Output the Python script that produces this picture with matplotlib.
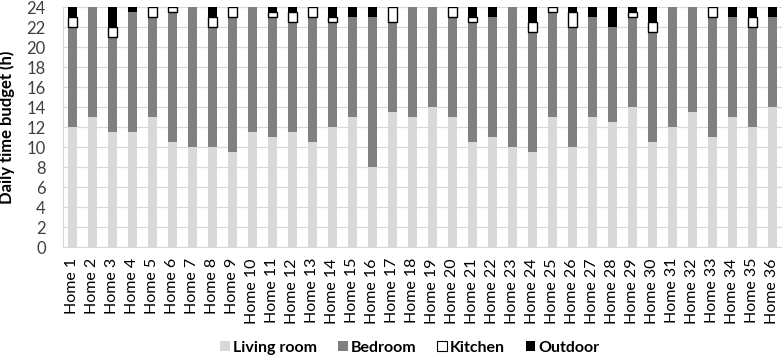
import matplotlib
matplotlib.use("Agg")
import matplotlib.pyplot as plt
import numpy as np
from matplotlib.patches import Patch

plt.rcParams['font.family'] = ['Lato', 'DejaVu Sans']

homes = [f"Home {i}" for i in range(1, 37)]
living = [12, 13, 11.5, 11.5, 13, 10.5, 10, 10, 9.5, 11.5, 11, 11.5, 10.5, 12, 13, 8, 13.5, 13,
          14, 13, 10.5, 11, 10, 9.5, 13, 10, 13, 12.5, 14, 10.5, 12, 13.5, 11, 13, 12, 14]
bedroom = [10, 11, 9.5, 12, 10, 13, 14, 12, 13.5, 12.5, 12, 11, 12.5, 10.5, 10, 15, 9, 11,
           10, 10, 12, 12, 14, 12, 10.5, 12, 10, 9.5, 9, 11, 12, 10.5, 12, 10, 10, 9]
kitchen = [1, 0, 1, 0, 1, 0.5, 0, 1, 1, 0, 0.5, 1, 1, 0.5, 0, 0, 1.5, 0,
           0, 1, 0.5, 0, 0, 1, 0.5, 1.5, 0, 0, 0.5, 1, 0, 0, 1, 0, 1, 0]
outdoor = [1, 0, 2, 0.5, 0, 0, 0, 1, 0, 0, 0.5, 0.5, 0, 1, 1, 1, 0, 0,
           0, 0, 1, 1, 0, 1.5, 0, 0.5, 1, 2, 0.5, 1.5, 0, 0, 0, 1, 1, 1]
yticks = list(range(0, 25, 2))

fig = plt.figure(figsize=(7.82, 3.56), dpi=100)
ax = fig.add_axes([62.5/782, 109/356, 720/782, 240/356])

x = np.arange(len(homes))
w = 0.45
liv = np.array(living, float)
bed = np.array(bedroom, float)
kit = np.array(kitchen, float)
out = np.array(outdoor, float)

ax.bar(x, liv, w, color='#d9d9d9', zorder=3)
ax.bar(x, bed, w, bottom=liv, color='#808080', zorder=3)
mask = kit > 0
ax.bar(x[mask], kit[mask], w, bottom=(liv + bed)[mask], color='white',
       edgecolor='black', linewidth=1.0, zorder=3)
ax.bar(x, out, w, bottom=liv + bed + kit, color='black', zorder=3)

ax.set_xlim(-0.5, len(homes) - 0.5)
ax.set_ylim(0, 24)
ax.set_yticks(yticks)
ax.set_yticklabels([str(t) for t in yticks], fontsize=12, color='#404040')
ax.set_xticks(x)
ax.set_xticklabels(homes, rotation=90, fontsize=11.5, color='black')
ax.tick_params(axis='y', length=0, pad=12)
ax.tick_params(axis='x', length=0, pad=8)
ax.yaxis.grid(True, color='#d9d9d9', linewidth=0.9, zorder=0)
ax.set_axisbelow(True)
for s in ['top', 'right']:
    ax.spines[s].set_visible(False)
ax.spines['left'].set_color('#d9d9d9')
ax.spines['bottom'].set_color('#d9d9d9')
ax.set_ylabel('Daily time budget (h)', fontsize=12, fontweight='bold', labelpad=8)

handles = [Patch(facecolor='#d9d9d9', edgecolor='none', label='Living room'),
           Patch(facecolor='#808080', edgecolor='none', label='Bedroom'),
           Patch(facecolor='white', edgecolor='black', linewidth=0.8, label='Kitchen'),
           Patch(facecolor='black', edgecolor='none', label='Outdoor')]
leg = fig.legend(handles=handles, loc='center', bbox_to_anchor=(410/782, 1 - 348/356),
                 ncol=4, frameon=False, handlelength=0.6, handleheight=0.6,
                 handletextpad=0.2, columnspacing=1.3, prop={'weight': 'bold', 'size': 11.5})

fig.savefig('out.png', dpi=100)
